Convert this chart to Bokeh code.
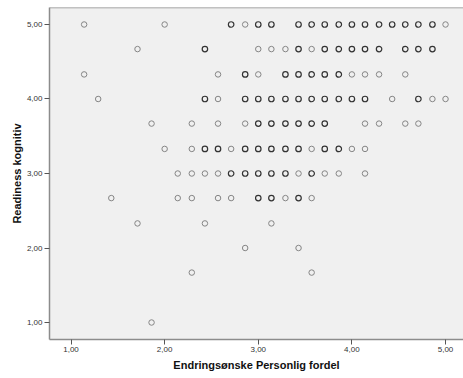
from bokeh.plotting import figure
from bokeh.models import FixedTicker, Range1d, Span, ColumnDataSource
from bokeh.embed import file_html
from bokeh.resources import INLINE

# Data: x = Endringsønske Personlig fordel, y = Readiness kognitiv, n = overlap weight (1 light, 3 dark)
x_vals = [
    1.14, 2.00, 2.71, 2.86, 3.00, 3.14, 3.43, 3.57, 3.71, 3.86, 4.00, 4.14, 4.29, 4.43, 4.57, 4.71, 4.86, 5.00,
    1.71, 2.43, 3.00, 3.14, 3.29, 3.43, 3.57, 3.71, 3.86, 4.00, 4.14, 4.29, 4.57, 4.71, 4.86,
    1.14, 2.57, 2.86, 3.00, 3.29, 3.43, 3.57, 3.71, 3.86, 4.00, 4.14, 4.29, 4.57,
    1.29, 2.43, 2.57, 2.86, 3.00, 3.14, 3.29, 3.43, 3.57, 3.71, 3.86, 4.00, 4.14, 4.43, 4.71, 4.86, 5.00,
    1.86, 2.29, 2.57, 2.86, 3.00, 3.14, 3.29, 3.43, 3.57, 3.71, 4.14, 4.29, 4.57, 4.71,
    2.00, 2.29, 2.43, 2.57, 2.71, 2.86, 3.00, 3.14, 3.29, 3.43, 3.57, 3.71, 3.86, 4.00, 4.14,
    2.14, 2.29, 2.43, 2.57, 2.71, 2.86, 3.00, 3.14, 3.29, 3.43, 3.57, 3.71, 3.86, 4.14,
    1.43, 2.14, 2.29, 2.57, 2.71, 3.00, 3.14, 3.29, 3.43, 3.57,
    1.71, 2.43, 3.14,
    2.86, 3.43,
    2.29, 3.57,
    1.86,
]
y_vals = (
    [5.00] * 18 + [4.67] * 15 + [4.33] * 13 + [4.00] * 17 + [3.67] * 14 + [3.33] * 15
    + [3.00] * 14 + [2.67] * 10 + [2.33] * 3 + [2.00] * 2 + [1.67] * 2 + [1.00] * 1
)
n_vals = [
    1, 1, 3, 1, 3, 3, 3, 3, 3, 3, 3, 3, 3, 3, 3, 3, 3, 1,
    1, 3, 1, 1, 1, 3, 1, 3, 3, 3, 3, 3, 3, 3, 3,
    1, 1, 3, 1, 3, 3, 3, 3, 3, 1, 1, 1, 1,
    1, 3, 1, 3, 3, 3, 3, 3, 3, 3, 3, 3, 3, 1, 3, 1, 1,
    1, 1, 1, 1, 3, 3, 3, 3, 3, 3, 1, 1, 1, 1,
    1, 1, 3, 3, 1, 3, 3, 3, 3, 3, 1, 3, 3, 1, 1,
    1, 1, 1, 1, 3, 3, 3, 3, 3, 1, 3, 1, 1, 1,
    1, 1, 1, 1, 1, 3, 3, 1, 3, 1,
    1, 1, 1,
    1, 1,
    1, 1,
    1,
]
tick_vals = [1, 2, 3, 4, 5]
tick_labels = ["1,00", "2,00", "3,00", "4,00", "5,00"]
x_title = "Endringsønske Personlig fordel"
y_title = "Readiness kognitiv"

colors = ["#333333" if n > 1 else "#858585" for n in n_vals]
widths = [1.2 if n > 1 else 1.0 for n in n_vals]
src = ColumnDataSource(dict(x=x_vals, y=y_vals, c=colors, w=widths))

p = figure(width=463, height=378,
           x_range=Range1d(0.77, 5.192), y_range=Range1d(0.772, 5.228),
           output_backend="svg", toolbar_location=None,
           min_border_left=49, min_border_right=0, min_border_top=7, min_border_bottom=39)
p.background_fill_color = "#F0F0F0"
p.border_fill_color = "white"
p.outline_line_color = None
p.grid.visible = False

p.scatter("x", "y", source=src, marker="circle", size=5.5,
          fill_color=None, line_color="c", line_width="w")

top = Span(location=5.228, dimension="width", line_color="#8c8c8c", line_width=1.5)
p.add_layout(top)

for ax in (p.xaxis[0], p.yaxis[0]):
    ax.ticker = FixedTicker(ticks=tick_vals)
    ax.major_label_overrides = {v: s for v, s in zip(tick_vals, tick_labels)}
    ax.axis_line_color = "#8c8c8c"
    ax.axis_line_width = 1.5
    ax.major_tick_line_color = "#555555"
    ax.major_tick_out = 5
    ax.major_tick_in = 0
    ax.minor_tick_out = 0
    ax.minor_tick_in = 0
    ax.major_label_text_font = "Liberation Sans"
    ax.major_label_text_font_size = "8px"
    ax.major_label_text_color = "#333333"
    ax.axis_label_text_font = "Liberation Sans"
    ax.axis_label_text_font_size = "11px"
    ax.axis_label_text_font_style = "bold"
    ax.axis_label_text_color = "#111111"

p.xaxis[0].axis_label = x_title
p.yaxis[0].axis_label = y_title
p.xaxis[0].major_label_standoff = 2
p.xaxis[0].axis_label_standoff = 4
p.yaxis[0].major_label_standoff = 2
p.yaxis[0].axis_label_standoff = 1

open("out.html", "w").write(file_html(p, INLINE))
